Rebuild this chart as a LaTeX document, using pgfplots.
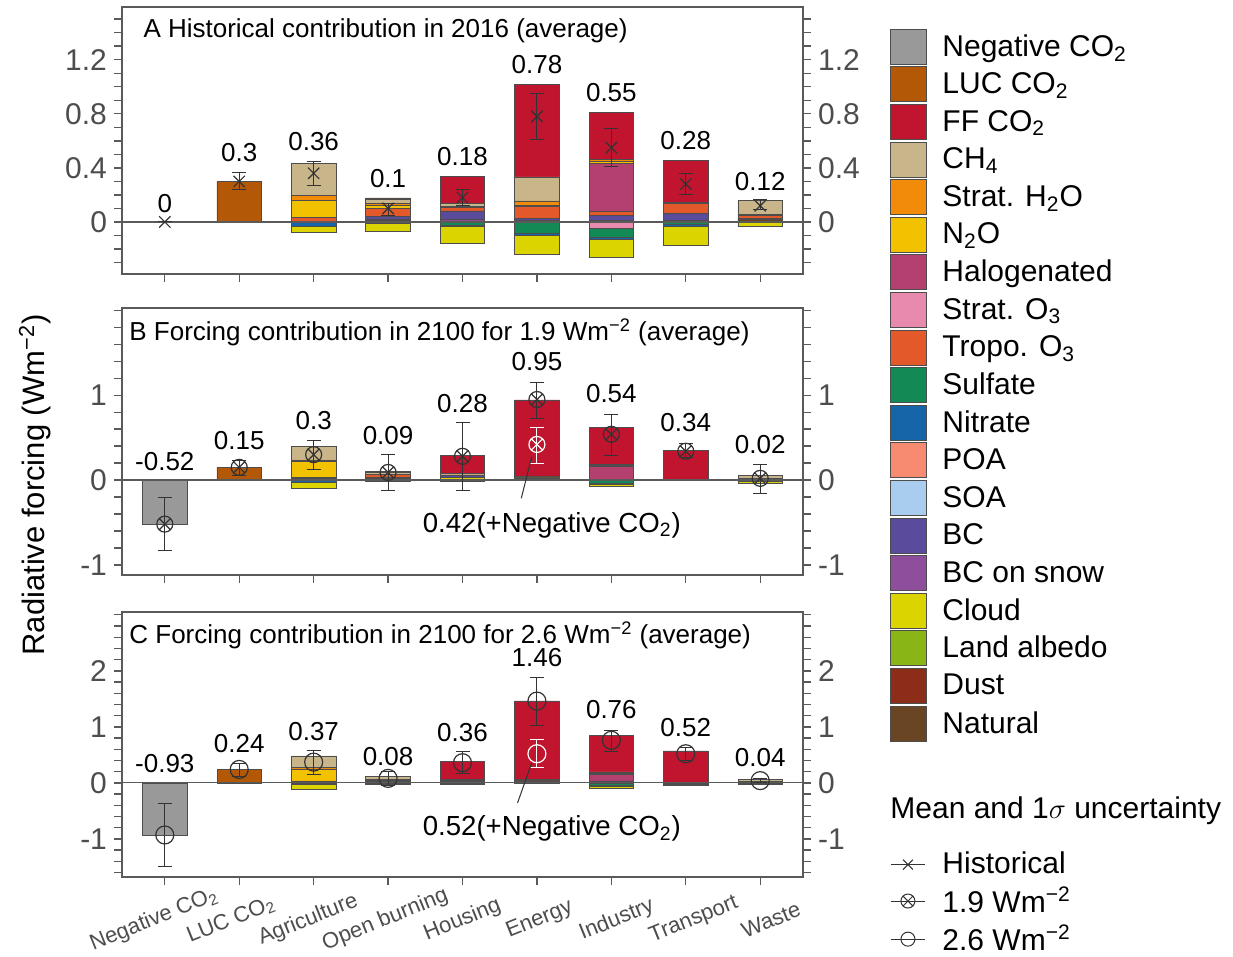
\documentclass[border=0pt]{standalone}
\usepackage{pgfplots}
\usepackage{pgfplotstable}
\pgfplotsset{compat=1.18}
\usepackage{fontspec}
\setmainfont{Liberation Sans}

\definecolor{cNeg}{HTML}{999999}
\definecolor{cLUC}{HTML}{B35806}
\definecolor{cFF}{HTML}{C0142F}
\definecolor{cCH}{HTML}{C8B68A}
\definecolor{cSH}{HTML}{F28A0A}
\definecolor{cNO}{HTML}{F2C200}
\definecolor{cHa}{HTML}{B3406F}
\definecolor{cSO}{HTML}{E88AAD}
\definecolor{cTO}{HTML}{E4592A}
\definecolor{cSu}{HTML}{138A55}
\definecolor{cNi}{HTML}{1565A8}
\definecolor{cPO}{HTML}{F78B72}
\definecolor{cSA}{HTML}{A8CDEE}
\definecolor{cBC}{HTML}{5A4B9C}
\definecolor{cBS}{HTML}{8F4E9B}
\definecolor{cCl}{HTML}{DCD400}
\definecolor{cLA}{HTML}{8AB516}
\definecolor{cDu}{HTML}{8B2D18}
\definecolor{cNa}{HTML}{6A4524}
\definecolor{edge}{HTML}{4D4D4D}
\definecolor{axc}{HTML}{5A5A5A}
\definecolor{txt}{HTML}{4D4D4D}
\definecolor{mk}{HTML}{333333}

\newcommand\fTick{\fontsize{15}{18}\selectfont}
\newcommand\fLab{\fontsize{13}{15}\selectfont}
\newcommand\fAnn{\fontsize{13.8}{16}\selectfont}
\newcommand\fTtl{\fontsize{13}{15}\selectfont}
\newcommand\fLeg{\fontsize{15}{18}\selectfont}
\newcommand\fX{\fontsize{11}{13}\selectfont}

% columns: Neg LUC FF CH SH NO Ha SO TO Su Ni PO SA BC BS Cl LA Du Na
\pgfplotstableread{
x Neg LUC FF CH SH NO Ha SO TO Su Ni PO SA BC BS Cl LA Du Na
0 0 0 0 0 0 0 0 0 0 0 0 0 0 0 0 0 0 0 0
1 0 0.30 0 0 0 0 0 0 0 0 0 0 0 0 0 0 0 0 0
2 0 0 0 0.24 0.035 0.128 0 0 0.032 0 0 0 0 0 0 0 0 0 0
3 0 0.01 0 0.032 0.012 0.025 0 0 0.057 0 0 0 0 0.02 0.01 0 0 0 0.012
4 0 0 0.20 0.017 0.01 0 0 0 0.025 0 0 0 0 0.062 0.012 0 0 0.008 0
5 0 0 0.686 0.178 0.03 0.012 0 0 0.086 0 0 0 0 0.017 0 0 0 0.01 0
6 0 0 0.348 0 0.012 0.015 0.358 0 0.03 0 0 0 0 0.037 0 0 0 0.01 0
7 0 0 0.309 0 0.01 0 0 0 0.074 0 0 0 0 0.05 0 0 0 0.01 0
8 0 0 0 0.1 0.012 0 0 0 0.018 0 0 0 0 0 0 0 0 0.012 0.016
}\posA
\pgfplotstableread{
x Neg LUC FF CH SH NO Ha SO TO Su Ni PO SA BC BS Cl LA Du Na
0 0 0 0 0 0 0 0 0 0 0 0 0 0 0 0 0 0 0 0
1 0 0 0 0 0 0 0 0 0 0 0 0 0 0 0 0 0 0 0
2 0 0 0 0 0 0 0 0 0 0 -0.03 -0.005 0 0 0 -0.04 0 0 0
3 0 0 0 0 0 0 0 0 0 -0.012 0 0 0 0 0 -0.06 0 0 0
4 0 0 0 0 0 0 0 0 0 -0.025 -0.005 0 0 0 0 -0.125 0 0 0
5 0 0 0 0 0 0 0 0 0 -0.084 -0.017 0 0 0 0 -0.138 0 0 0
6 0 0 0 0 0 0 0 -0.044 0 -0.07 -0.012 0 0 0 0 -0.138 0 0 0
7 0 0 0 0 0 0 0 0 0 -0.02 -0.015 0 0 0 0 -0.136 0 0 0
8 0 0 0 0 0 0 0 0 0 0 0 0 0 0 0 -0.035 0 0 0
}\negA
\pgfplotstableread{
x Neg LUC FF CH SH NO Ha SO TO Su Ni PO SA BC BS Cl LA Du Na
0 0 0 0 0 0 0 0 0 0 0 0 0 0 0 0 0 0 0 0
1 0 0.15 0 0 0 0 0 0 0 0 0 0 0 0 0 0 0 0 0
2 0 0 0 0.157 0.02 0.188 0 0 0.015 0 0 0 0 0.015 0 0 0 0 0
3 0 0.014 0 0.018 0.006 0 0 0 0.032 0 0 0 0 0.012 0 0 0 0 0.02
4 0 0 0.22 0.015 0 0 0 0 0.01 0 0 0 0 0.015 0 0.035 0 0 0
5 0 0 0.905 0.01 0.005 0.005 0 0 0.008 0 0 0 0 0.012 0 0 0 0 0
6 0 0 0.431 0.015 0.008 0.008 0.145 0 0 0 0 0 0 0.012 0 0 0 0 0
7 0 0 0.335 0 0 0 0 0 0 0 0 0 0 0.01 0 0 0 0 0
8 0 0 0 0.035 0 0 0 0 0 0 0 0 0 0 0 0 0 0.012 0.012
}\posB
\pgfplotstableread{
x Neg LUC FF CH SH NO Ha SO TO Su Ni PO SA BC BS Cl LA Du Na
0 -0.52 0 0 0 0 0 0 0 0 0 0 0 0 0 0 0 0 0 0
1 0 0 0 0 0 0 0 0 0 0 0 0 0 0 0 0 0 0 0
2 0 0 0 0 0 0 0 0 0 0 -0.025 0 0 0 0 -0.07 0 0 0
3 0 0 0 0 0 0 0 0 0 0 0 0 0 0 0 -0.012 0 0 0
4 0 0 0 0 0 0 0 0 0 -0.015 0 0 0 0 0 0 0 0 0
5 0 0 0 0 0 0 0 0 0 0 0 0 0 0 0 0 0 0 0
6 0 0 0 0 0 0 0 0 0 -0.035 -0.012 0 0 0 0 -0.03 0 0 0
7 0 0 0 0 0 0 0 0 0 0 0 0 0 0 0 0 0 0 0
8 0 0 0 0 0 0 0 0 0 -0.015 0 0 0 0 0 -0.02 0 0 0
}\negB
\pgfplotstableread{
x Neg LUC FF CH SH NO Ha SO TO Su Ni PO SA BC BS Cl LA Du Na
0 0 0 0 0 0 0 0 0 0 0 0 0 0 0 0 0 0 0 0
1 0 0.24 0 0 0 0 0 0 0 0 0 0 0 0 0 0 0 0 0
2 0 0 0 0.2 0.045 0.202 0 0 0.015 0 0 0 0 0.02 0 0 0 0 0
3 0 0 0 0.048 0 0 0 0 0.02 0 0 0 0 0.015 0 0 0 0 0.03
4 0 0 0.315 0.015 0.008 0 0 0 0.012 0 0 0 0 0.03 0 0 0 0 0
5 0 0 1.404 0.015 0 0.01 0 0 0.015 0 0 0 0 0.02 0 0 0 0 0
6 0 0 0.655 0.02 0.01 0.01 0.12 0 0 0 0 0 0 0.035 0 0 0 0 0
7 0 0 0.56 0 0 0 0 0 0 0 0 0 0 0.011 0 0 0 0 0
8 0 0 0 0.03 0 0 0 0 0 0 0 0 0 0 0 0 0 0.015 0.015
}\posC
\pgfplotstableread{
x Neg LUC FF CH SH NO Ha SO TO Su Ni PO SA BC BS Cl LA Du Na
0 -0.93 0 0 0 0 0 0 0 0 0 0 0 0 0 0 0 0 0 0
1 0 0 0 0 0 0 0 0 0 0 0 0 0 0 0 0 0 0 0
2 0 0 0 0 0 0 0 0 0 0 -0.03 0 0 0 0 -0.08 0 0 0
3 0 0 0 0 0 0 0 0 0 0 0 0 0 0 0 -0.035 0 0 0
4 0 0 0 0 0 0 0 0 0 0 0 0 0 0 0 -0.02 0 0 0
5 0 0 0 0 0 0 0 0 0 0 0 0 0 0 0 0 0 0 0
6 0 0 0 0 0 0 0 0 0 -0.05 -0.01 0 0 0 0 -0.03 0 0 0
7 0 0 0 0 0 0 0 0 0 -0.02 0 0 0 0 0 -0.03 0 0 0
8 0 0 0 0 0 0 0 0 0 -0.01 0 0 0 0 0 -0.01 0 0 0
}\negC

% mean and 1 sigma: x mean plus minus
\pgfplotstableread{
x y ep em
0 0 0 0
1 0.30 0.063 0.06
2 0.36 0.084 0.09
3 0.10 0.033 0.056
4 0.18 0.06 0.057
5 0.78 0.173 0.168
6 0.55 0.14 0.14
7 0.28 0.08 0.075
8 0.12 0.043 0.031
}\errA
\pgfplotstableread{
x y ep em
0 -0.52 0.32 0.315
1 0.15 0.085 0.1
2 0.30 0.17 0.17
3 0.09 0.21 0.208
4 0.28 0.395 0.398
5 0.95 0.199 0.225
6 0.54 0.236 0.246
7 0.34 0.09 0.07
8 0.02 0.16 0.173
}\errB
\pgfplotstableread{
x y ep em
5 0.42 0.2 0.22
}\errBw
\pgfplotstableread{
x y ep em
0 -0.93 0.567 0.564
1 0.24 0.105 0.121
2 0.37 0.201 0.215
3 0.08 0.116 0.12
4 0.36 0.2 0.187
5 1.46 0.42 0.437
6 0.76 0.18 0.206
7 0.52 0.11 0.115
8 0.04 0.03 0.03
}\errC
\pgfplotstableread{
x y ep em
5 0.52 0.248 0.246
}\errCw

\pgfplotsset{
  every axis/.append style={/pgf/number format/assume math mode=true},
  panel/.style={
    scale only axis, width=340.5pt, height=#1,
    xmin=-0.575, xmax=8.575, xtick={0,...,8},
    tick align=outside, major tick length=4pt, minor tick length=4pt,
    axis line style={draw=axc, line width=0.7pt},
    tick style={draw=axc, line width=0.7pt},
    minor tick style={draw=axc, line width=0.7pt},
    tick label style={font=\fTick, text=txt},
    clip=false,
  },
  barsty/.style={draw=edge, line width=0.35pt},
  lbox/.style={legend image code/.code={\draw[##1,draw=edge,line width=0.5pt] (0pt,-8.75pt) rectangle (18pt,8.75pt);}},
  errsty/.style={forget plot, only marks, mark size=4pt,
    mark options={line width=0.6pt},
    error bars/.cd, y dir=both, y explicit,
    error bar style={line width=0.5pt},
    error mark options={rotate=90, line width=0.5pt, mark size=3.5pt},
    /pgfplots/.cd},
}
\tikzset{lab/.style={font=\fLab, inner sep=1pt}}

\begin{document}
\begin{tikzpicture}
\useasboundingbox (0pt,0pt) rectangle (616.5pt,478.5pt);

\node[rotate=90, font=\fontsize{15.5}{18}\selectfont] at (17.5pt,236pt) {Radiative forcing (Wm\textsuperscript{−2})};

% ================= Panel A =================
\begin{axis}[panel=133.5pt, at={(61pt,341.5pt)}, anchor=south west,
  ymin=-0.385, ymax=1.59, ytick={0,0.4,0.8,1.2}, minor ytick={-0.3,-0.2,...,1.5},
  ytick pos=left, xtick pos=left, xticklabels={}, ybar stacked, bar width=0.6]
\pgfplotsinvokeforeach{Na,Du,LA,Cl,BS,BC,SA,PO,Ni,Su,TO,SO,Ha,NO,SH,CH,FF,LUC,Neg}{
  \addplot[barsty, fill=c#1] table[x=x,y=#1]{\posA};}
\end{axis}
\begin{axis}[panel=133.5pt, at={(61pt,341.5pt)}, anchor=south west,
  ymin=-0.385, ymax=1.59, ytick={0,0.4,0.8,1.2}, minor ytick={-0.3,-0.2,...,1.5},
  axis x line=none, axis y line*=right, ybar stacked, bar width=0.6]
\pgfplotsinvokeforeach{Neg,LUC,FF,CH,SH,NO,Ha,SO,TO,Su,Ni,PO,SA,BC,BS,Cl,LA,Du,Na}{
  \addplot[barsty, fill=c#1] table[x=x,y=#1]{\negA};}
\end{axis}
\begin{axis}[panel=133.5pt, at={(61pt,341.5pt)}, anchor=south west,
  ymin=-0.385, ymax=1.59, hide axis, legend cell align=left,
  legend style={at={(1.1278,0.9195)}, anchor=north west, draw=none, fill=none,
    inner sep=0pt, font=\fLeg, row sep=0.8pt, column sep=7.5pt,
    nodes={inner sep=0pt}}]
\draw[axc, line width=0.6pt] (axis cs:-0.575,0) -- (axis cs:8.575,0);
\addplot[errsty, mark=x, color=mk] table[x=x,y=y,y error plus=ep,y error minus=em]{\errA};
\node[anchor=west, inner sep=0pt, font=\fTtl] at (rel axis cs:0.031,0.91) {A Historical contribution in 2016 (average)};
\node[lab] at (axis cs:0,0.133) {0};
\node[lab] at (axis cs:1,0.511) {0.3};
\node[lab] at (axis cs:2,0.593) {0.36};
\node[lab] at (axis cs:3,0.319) {0.1};
\node[lab] at (axis cs:4,0.481) {0.18};
\node[lab] at (axis cs:5,1.163) {0.78};
\node[lab] at (axis cs:6,0.956) {0.55};
\node[lab] at (axis cs:7,0.600) {0.28};
\node[lab] at (axis cs:8,0.296) {0.12};
\addlegendimage{lbox, fill=cNeg}\addlegendentry{Negative CO\textsubscript{2}}
\addlegendimage{lbox, fill=cLUC}\addlegendentry{LUC CO\textsubscript{2}}
\addlegendimage{lbox, fill=cFF}\addlegendentry{FF CO\textsubscript{2}}
\addlegendimage{lbox, fill=cCH}\addlegendentry{CH\textsubscript{4}}
\addlegendimage{lbox, fill=cSH}\addlegendentry{Strat. H\textsubscript{2}O}
\addlegendimage{lbox, fill=cNO}\addlegendentry{N\textsubscript{2}O}
\addlegendimage{lbox, fill=cHa}\addlegendentry{Halogenated}
\addlegendimage{lbox, fill=cSO}\addlegendentry{Strat. O\textsubscript{3}}
\addlegendimage{lbox, fill=cTO}\addlegendentry{Tropo. O\textsubscript{3}}
\addlegendimage{lbox, fill=cSu}\addlegendentry{Sulfate}
\addlegendimage{lbox, fill=cNi}\addlegendentry{Nitrate}
\addlegendimage{lbox, fill=cPO}\addlegendentry{POA}
\addlegendimage{lbox, fill=cSA}\addlegendentry{SOA}
\addlegendimage{lbox, fill=cBC}\addlegendentry{BC}
\addlegendimage{lbox, fill=cBS}\addlegendentry{BC on snow}
\addlegendimage{lbox, fill=cCl}\addlegendentry{Cloud}
\addlegendimage{lbox, fill=cLA}\addlegendentry{Land albedo}
\addlegendimage{lbox, fill=cDu}\addlegendentry{Dust}
\addlegendimage{lbox, fill=cNa}\addlegendentry{Natural}
\end{axis}

% ================= Panel B =================
\begin{axis}[panel=133.5pt, at={(61pt,191pt)}, anchor=south west,
  ymin=-1.12, ymax=2.03, ytick={-1,0,1}, minor ytick={-1,-0.8,...,2.0},
  ytick pos=left, xtick pos=left, xticklabels={}, ybar stacked, bar width=0.6]
\pgfplotsinvokeforeach{Na,Du,LA,Cl,BS,BC,SA,PO,Ni,Su,TO,SO,Ha,NO,SH,CH,FF,LUC,Neg}{
  \addplot[barsty, fill=c#1] table[x=x,y=#1]{\posB};}
\end{axis}
\begin{axis}[panel=133.5pt, at={(61pt,191pt)}, anchor=south west,
  ymin=-1.12, ymax=2.03, ytick={-1,0,1}, minor ytick={-1,-0.8,...,2.0},
  axis x line=none, axis y line*=right, ybar stacked, bar width=0.6]
\pgfplotsinvokeforeach{Neg,LUC,FF,CH,SH,NO,Ha,SO,TO,Su,Ni,PO,SA,BC,BS,Cl,LA,Du,Na}{
  \addplot[barsty, fill=c#1] table[x=x,y=#1]{\negB};}
\end{axis}
\begin{axis}[panel=133.5pt, at={(61pt,191pt)}, anchor=south west,
  ymin=-1.12, ymax=2.03, hide axis]
\draw[axc, line width=0.6pt] (axis cs:-0.575,0) -- (axis cs:8.575,0);
\addplot[errsty, mark=otimes, color=mk] table[x=x,y=y,y error plus=ep,y error minus=em]{\errB};
\addplot[errsty, mark=otimes, color=white] table[x=x,y=y,y error plus=ep,y error minus=em]{\errBw};
\node[anchor=west, inner sep=0pt, font=\fTtl] at (rel axis cs:0.0103,0.91) {B Forcing contribution in 2100 for 1.9 Wm\textsuperscript{−2} (average)};
\node[lab] at (axis cs:0,0.224) {-0.52};
\node[lab] at (axis cs:1,0.470) {0.15};
\node[lab] at (axis cs:2,0.706) {0.3};
\node[lab] at (axis cs:3,0.530) {0.09};
\node[lab] at (axis cs:4,0.906) {0.28};
\node[lab] at (axis cs:5,1.400) {0.95};
\node[lab] at (axis cs:6,1.024) {0.54};
\node[lab] at (axis cs:7,0.682) {0.34};
\node[lab] at (axis cs:8,0.424) {0.02};
\draw[mk, line width=0.5pt] (axis cs:4.93,0.274) -- (axis cs:4.79,-0.215);
\node[font=\fAnn, inner sep=1pt] at (axis cs:5.2,-0.53) {0.42(+Negative CO\textsubscript{2})};
\end{axis}

% ================= Panel C =================
\begin{axis}[panel=132.5pt, at={(61pt,40pt)}, anchor=south west,
  ymin=-1.68, ymax=3.05, ytick={-1,0,1,2}, minor ytick={-1.6,-1.4,...,3.0},
  ytick pos=left, xtick pos=left, ybar stacked, bar width=0.6,
  xticklabels={Negative CO\textsubscript{2}, LUC CO\textsubscript{2}, Agriculture, Open burning, Housing, Energy, Industry, Transport, Waste},
  xticklabel style={font=\fX, text=txt, inner sep=0pt, anchor=center, yshift=-17.5pt, xshift={(\ticknum-4)*1.35pt}, rotate=22}]
\pgfplotsinvokeforeach{Na,Du,LA,Cl,BS,BC,SA,PO,Ni,Su,TO,SO,Ha,NO,SH,CH,FF,LUC,Neg}{
  \addplot[barsty, fill=c#1] table[x=x,y=#1]{\posC};}
\end{axis}
\begin{axis}[panel=132.5pt, at={(61pt,40pt)}, anchor=south west,
  ymin=-1.68, ymax=3.05, ytick={-1,0,1,2}, minor ytick={-1.6,-1.4,...,3.0},
  axis x line=none, axis y line*=right, ybar stacked, bar width=0.6]
\pgfplotsinvokeforeach{Neg,LUC,FF,CH,SH,NO,Ha,SO,TO,Su,Ni,PO,SA,BC,BS,Cl,LA,Du,Na}{
  \addplot[barsty, fill=c#1] table[x=x,y=#1]{\negC};}
\end{axis}
\begin{axis}[panel=132.5pt, at={(61pt,40pt)}, anchor=south west,
  ymin=-1.68, ymax=3.05, hide axis, legend cell align=left,
  legend image code/.code={\draw[mark repeat=2,mark phase=2,#1] plot coordinates {(0pt,0pt) (8.5pt,0pt) (17pt,0pt)};},
  legend style={at={(1.1278,0.11)}, anchor=north west, draw=none, fill=none,
    inner sep=0pt, font=\fLeg, row sep=1pt, column sep=6.5pt}]
\draw[axc, line width=0.6pt] (axis cs:-0.575,0) -- (axis cs:8.575,0);
\addplot[errsty, mark=o, color=mk, mark size=4.5pt] table[x=x,y=y,y error plus=ep,y error minus=em]{\errC};
\addplot[errsty, mark=o, color=white, mark size=4.5pt] table[x=x,y=y,y error plus=ep,y error minus=em]{\errCw};
\node[anchor=west, inner sep=0pt, font=\fTtl] at (rel axis cs:0.0103,0.912) {C Forcing contribution in 2100 for 2.6 Wm\textsuperscript{−2} (average)};
\node[lab] at (axis cs:0,0.339) {-0.93};
\node[lab] at (axis cs:1,0.696) {0.24};
\node[lab] at (axis cs:2,0.911) {0.37};
\node[lab] at (axis cs:3,0.464) {0.08};
\node[lab] at (axis cs:4,0.893) {0.36};
\node[lab] at (axis cs:5,2.232) {1.46};
\node[lab] at (axis cs:6,1.304) {0.76};
\node[lab] at (axis cs:7,0.982) {0.52};
\node[lab] at (axis cs:8,0.446) {0.04};
\draw[mk, line width=0.5pt] (axis cs:4.93,0.357) -- (axis cs:4.74,-0.357);
\node[font=\fAnn, inner sep=1pt] at (axis cs:5.2,-0.82) {0.52(+Negative CO\textsubscript{2})};
\node[anchor=west, inner sep=0pt, font=\fLeg] at (rel axis cs:1.1278,0.249) {Mean and 1$\sigma$ uncertainty};
\addlegendimage{color=mk, line width=0.5pt, mark=x, mark size=3.5pt}\addlegendentry{Historical}
\addlegendimage{color=mk, line width=0.5pt, mark=otimes, mark size=3.5pt}\addlegendentry{1.9 Wm\textsuperscript{−2}}
\addlegendimage{color=mk, line width=0.5pt, mark=o, mark size=3.5pt}\addlegendentry{2.6 Wm\textsuperscript{−2}}
\end{axis}
\end{tikzpicture}
\end{document}
